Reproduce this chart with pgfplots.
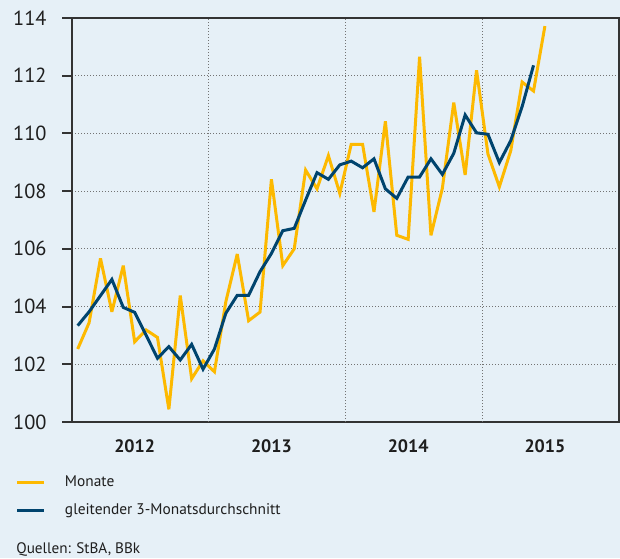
\documentclass[border=0pt]{standalone}
\usepackage{fontspec}
\setmainfont{PT Sans}
\usepackage{pgfplots}
\pgfplotsset{compat=1.18}
\definecolor{bg}{HTML}{E6F0F7}
\definecolor{ylw}{HTML}{FDB900}
\definecolor{blu}{HTML}{00446E}
\definecolor{axc}{HTML}{333333}
\definecolor{txt}{HTML}{1E1E1E}

\pgfplotstableread{
x y
0.5 102.53
1.5 103.44
2.5 105.67
3.5 103.82
4.5 105.42
5.5 102.78
6.5 103.19
7.5 102.93
8.5 100.44
9.5 104.38
10.5 101.50
11.5 102.12
12.5 101.74
13.5 104.17
14.5 105.82
15.5 103.51
16.5 103.81
17.5 108.41
18.5 105.42
19.5 106.00
20.5 108.73
21.5 108.08
22.5 109.23
23.5 107.92
24.5 109.62
25.5 109.62
26.5 107.28
27.5 110.42
28.5 106.47
29.5 106.33
30.5 112.66
31.5 106.47
32.5 108.10
33.5 111.07
34.5 108.56
35.5 112.19
36.5 109.29
37.5 108.15
38.5 109.40
39.5 111.78
40.5 111.47
41.5 113.72
}\monate

\pgfplotstableread{
x y
0.5 103.34
1.5 103.82
2.5 104.38
3.5 104.94
4.5 103.97
5.5 103.80
6.5 103.01
7.5 102.21
8.5 102.61
9.5 102.15
10.5 102.69
11.5 101.83
12.5 102.53
13.5 103.77
14.5 104.39
15.5 104.39
16.5 105.21
17.5 105.84
18.5 106.63
19.5 106.71
20.5 107.69
21.5 108.64
22.5 108.41
23.5 108.91
24.5 109.04
25.5 108.81
26.5 109.12
27.5 108.08
28.5 107.75
29.5 108.49
30.5 108.49
31.5 109.12
32.5 108.58
33.5 109.31
34.5 110.64
35.5 110.02
36.5 109.97
37.5 108.99
38.5 109.75
39.5 110.93
40.5 112.36
}\gleitend

\begin{document}
\begin{tikzpicture}
\fill[bg] (0,0) rectangle (310pt,279pt);
\begin{axis}[
  at={(36pt,68pt)}, anchor=south west,
  width=273.5pt, height=202pt, scale only axis,
  xmin=0, xmax=48, ymin=100, ymax=114,
  ytick={100,102,...,114},
  xtick={5.5,17.5,29.5,41.5},
  xticklabels={2012,2013,2014,2015},
  xtick style={draw=none},
  ytick pos=left,
  tick align=outside,
  major tick length=5pt,
  ytick style={line width=1pt, color=axc},
  axis line style={line width=1pt, color=axc},
  ymajorgrids,
  major grid style={black!55, line width=0.5pt, dash pattern=on 0.5pt off 1pt},
  extra x ticks={12,24,36}, extra x tick labels={},
  extra x tick style={grid=major, major tick length=0pt},
  xticklabel style={font=\bfseries\fontsize{9}{10}\selectfont, text=txt, anchor=center, yshift=-7pt},
  yticklabel style={font=\fontsize{10.2}{11}\selectfont, text=txt, anchor=east, inner sep=0pt, xshift=-7.5pt},
  /pgf/number format/assume math mode=true,
  legend style={at={(0,0)}, anchor=north west, xshift=-28pt, yshift=-26.5pt,
    draw=none, fill=none, inner sep=0pt, outer sep=0pt, row sep=7pt, column sep=0pt,
    font=\fontsize{7.7}{8}\selectfont, text=txt,
    nodes={inner sep=0pt, text height=5.5pt, text depth=1.5pt}},
  legend cell align=left,
  legend image code/.code={\draw[#1, line width=1.5pt] (0pt,0pt) -- (13.5pt,0pt); \path (23pt,0pt);},
]
\addplot[ylw, line width=1.5pt, line join=miter, miter limit=4] table {\monate};
\addlegendentry{Monate}
\addplot[blu, line width=1.5pt, line join=miter] table {\gleitend};
\addlegendentry{gleitender 3-Monatsdurchschnitt}
\end{axis}
\node[anchor=west, inner sep=0pt, font=\fontsize{7.6}{8}\selectfont, text=txt] at (8pt,4.5pt) {Quellen: StBA, BBk};
\end{tikzpicture}
\end{document}
